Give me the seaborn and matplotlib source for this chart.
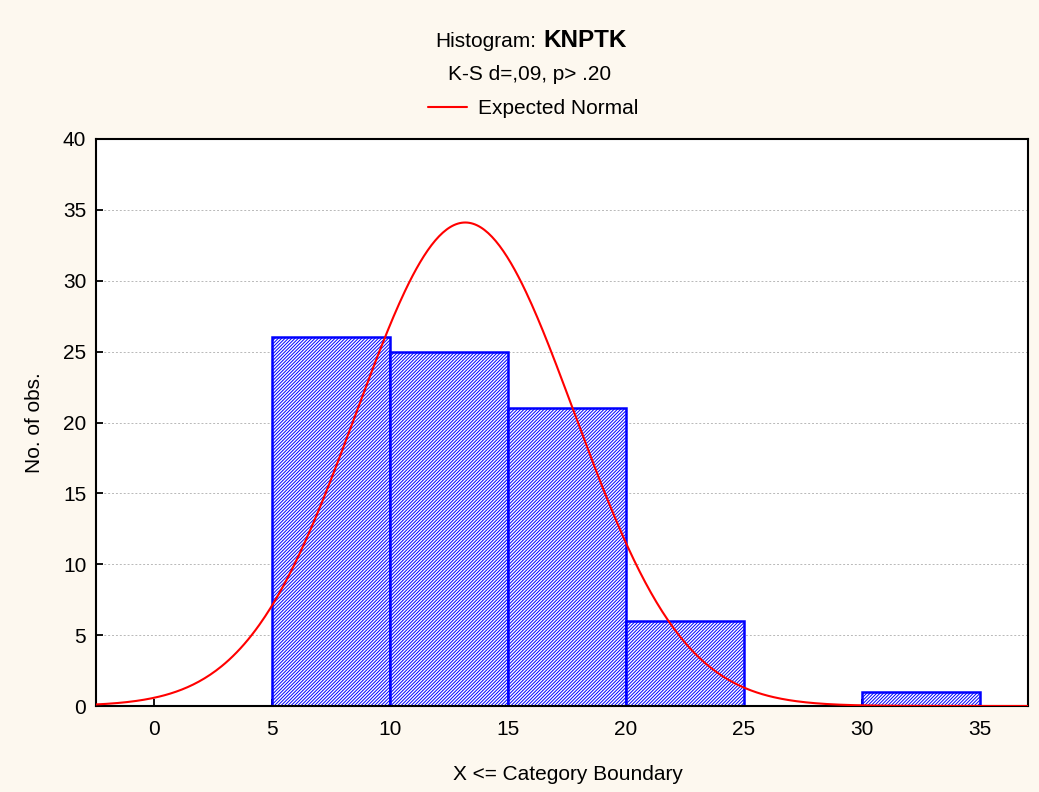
import numpy as np
import matplotlib
matplotlib.use("Agg")
import matplotlib.pyplot as plt
import seaborn as sns
from matplotlib.lines import Line2D

# Data
bin_edges = [5, 10, 15, 20, 25, 30, 35]
counts = [26, 25, 21, 6, 0, 1]
x_ticks = [0, 5, 10, 15, 20, 25, 30, 35]
y_ticks = [0, 5, 10, 15, 20, 25, 30, 35, 40]
fit_mean = 13.2
fit_sd = 4.62
n_obs = sum(counts)
bin_width = 5

sns.set_theme(style="white")
plt.rcParams['font.family'] = ['Liberation Sans', 'DejaVu Sans']
plt.rcParams['hatch.linewidth'] = 0.7
plt.rcParams['hatch.color'] = '#3a3aff'
for k in ['text.color', 'axes.labelcolor', 'xtick.color', 'ytick.color']:
    plt.rcParams[k] = 'black'

W, H = 1039, 792
fig = plt.figure(figsize=(W / 100, H / 100), dpi=100, facecolor='#fdf8ef')
ax = fig.add_axes([96 / W, 1 - 706 / H, (1028 - 96) / W, (706 - 139) / H])
ax.set_facecolor('white')

centers = [(a + b) / 2 for a, b in zip(bin_edges[:-1], bin_edges[1:])]
sns.histplot(x=centers, weights=counts, bins=bin_edges, ax=ax,
             facecolor='white', edgecolor='blue', linewidth=1.8,
             hatch='//////////', alpha=1)

xs = np.linspace(-2.5, 37.5, 500)
ys = n_obs * bin_width / (fit_sd * np.sqrt(2 * np.pi)) * np.exp(-0.5 * ((xs - fit_mean) / fit_sd) ** 2)
sns.lineplot(x=xs, y=ys, ax=ax, color='red', linewidth=1.5, zorder=5)

ax.set_xlim(-2.45, 37.05)
ax.set_ylim(0, 40)
ax.set_xticks(x_ticks)
ax.set_yticks(y_ticks)
ax.tick_params(axis='both', which='both', bottom=True, left=True, direction='in',
               length=5, width=1.3, color='black', labelsize=15)
ax.tick_params(axis='x', pad=10)
ax.tick_params(axis='y', pad=7)
ax.yaxis.grid(True, linestyle=(0, (2, 2)), color='#b8b8b8', linewidth=0.7)
ax.xaxis.grid(False)
ax.set_axisbelow(True)
for s in ax.spines.values():
    s.set_color('black')
    s.set_linewidth(1.5)

ax.set_xlabel('')
ax.set_ylabel('')
fig.text(35 / W, 1 - 423 / H, 'No. of obs.', rotation=90, ha='center', va='center', fontsize=15)
fig.text(568 / W, 1 - 774 / H, 'X <= Category Boundary', ha='center', va='center', fontsize=15)

fig.text(435 / W, 1 - 47 / H, 'Histogram:', ha='left', va='baseline', fontsize=15)
fig.text(543 / W, 1 - 47 / H, 'KNPTK', ha='left', va='baseline', fontsize=17.5, fontweight='bold')
fig.text(530 / W, 1 - 75 / H, 'K-S d=,09, p> .20', ha='center', va='center', fontsize=15)

handle = Line2D([], [], color='red', linewidth=1.5)
fig.legend([handle], ['Expected Normal'], loc='center left', bbox_to_anchor=(428 / W, 1 - 109 / H),
           frameon=False, fontsize=15, handlelength=1.87, handletextpad=0.53,
           borderpad=0, borderaxespad=0)

fig.savefig('out.png', dpi=100, facecolor=fig.get_facecolor())
